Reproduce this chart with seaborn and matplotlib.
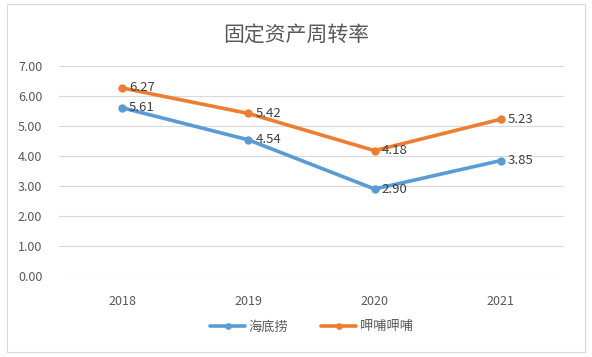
import matplotlib
matplotlib.use('Agg')
import matplotlib.pyplot as plt
import seaborn as sns
import pandas as pd
from matplotlib.patches import Rectangle

years = ['2018', '2019', '2020', '2021']
haidilao = [5.61, 4.54, 2.90, 3.85]
nayuki = [6.27, 5.42, 4.18, 5.23]
series_names = ['海底捞', '呷哺呷哺']
colors = ['#5B9BD5', '#ED7D31']

sns.set_theme(style='white')
plt.rcParams['font.family'] = ['Noto Sans CJK SC', 'DejaVu Sans']

df = pd.DataFrame({
    'year': years * 2,
    'value': haidilao + nayuki,
    'series': [series_names[0]] * 4 + [series_names[1]] * 4,
})

fig = plt.figure(figsize=(5.92, 3.57), dpi=100)
ax = fig.add_axes([0.0997, 0.2269, 0.853, 0.588])

sns.lineplot(data=df, x='year', y='value', hue='series', palette=colors,
             marker='o', markersize=6, markeredgewidth=0, linewidth=2.6,
             sort=False, ax=ax)

for vals, c in zip([haidilao, nayuki], colors):
    for i, v in enumerate(vals):
        ax.annotate(f'{v:.2f}', (i, v), xytext=(5, 0), textcoords='offset points',
                    ha='left', va='center', fontsize=9.5, color='#404040')

ax.set_ylim(0, 7)
ax.set_xlim(-0.5, 3.5)
ax.set_yticks([i for i in range(8)])
ax.set_yticklabels([f'{i:.2f}' for i in range(8)])
ax.tick_params(axis='both', labelsize=9, labelcolor='#595959', length=0, pad=14)
ax.tick_params(axis='y', pad=12)
ax.grid(axis='y', color='#D9D9D9', linewidth=0.8)
ax.set_axisbelow(True)
for s in ax.spines.values():
    s.set_visible(False)
ax.set_xlabel('')
ax.set_ylabel('')

leg = ax.legend(loc='upper center', bbox_to_anchor=(0.5, -0.155), ncol=2, frameon=False,
                fontsize=9.5, handlelength=2.6, columnspacing=2.5, handletextpad=0.3,
                markerscale=0.8)
for t in leg.get_texts():
    t.set_color('#595959')

fig.text(0.5, 0.9, '固定资产周转率', ha='center', va='center', fontsize=15,
         color='#595959', fontweight='light')
fig.patches.append(Rectangle((0.011, 0.013), 0.978, 0.975, transform=fig.transFigure,
                             fill=False, edgecolor='#D9D9D9', linewidth=0.8))

fig.savefig('out.png', dpi=100)
